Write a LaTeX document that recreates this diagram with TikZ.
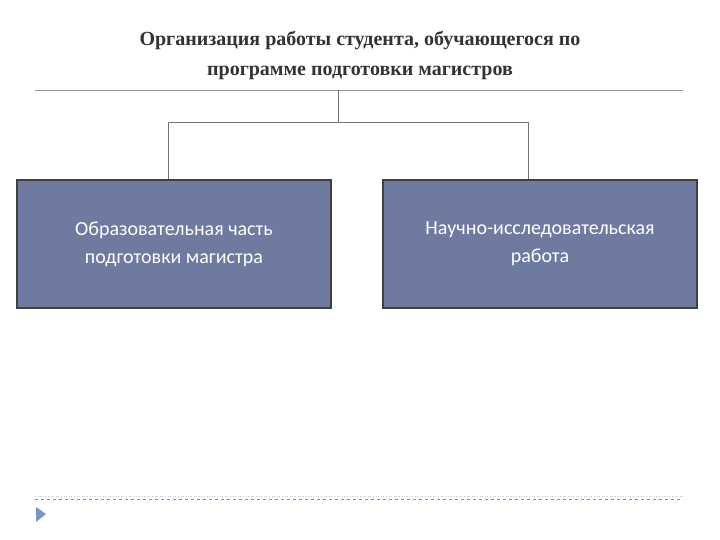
\documentclass[tikz,border=0pt]{standalone}
\usepackage{fontspec}
\setmainfont{Liberation Serif}
\newfontfamily\bodyfont{Carlito}
\definecolor{boxfill}{RGB}{110,122,160}
\definecolor{dotblue}{RGB}{180,200,225}
\definecolor{triblue}{RGB}{120,150,195}
\begin{document}
\begin{tikzpicture}[x=1pt,y=-1pt,
  box/.style={draw=black!75,line width=1.5pt,fill=boxfill,minimum width=314pt,minimum height=128pt,text=white,font=\bodyfont\fontsize{20}{28}\selectfont,align=center,inner sep=0pt},
  conn/.style={draw=black!55,line width=0.8pt}]
\useasboundingbox (0,0) rectangle (720,540);
\node[font=\bfseries\fontsize{20}{30}\selectfont,text=black!80,align=center] (title) at (360,55) {Организация работы студента, обучающегося по\\программе подготовки магистров};
\coordinate (tl) at (35,90);
\coordinate (tr) at (683,90);
\draw[conn,black!40] (tl) -- (tr);
\node[box] (b1) at (174,244) {Образовательная часть\\подготовки магистра};
\node[box] (b2) at (540,244) {Научно-исследовательская\\работа};
\coordinate (top) at (338,90);
\coordinate (mid) at (338,122);
\coordinate (h1) at (168,122);
\coordinate (h2) at (528,122);
\draw[conn] (top) -- (mid);
\draw[conn] (h1 |- b1.north) -- (h1) -- (h2) -- (h2 |- b2.north);
\coordinate (bl) at (35,499);
\coordinate (br) at (683,499);
\draw[black!45,dashed,line width=0.6pt] (bl) -- (br);
\draw[dotblue,line width=0.6pt,dotted] (35,496) -- (683,496);
\fill[triblue] (36,507) -- (46,514) -- (36,522) -- cycle;
\end{tikzpicture}
\end{document}
